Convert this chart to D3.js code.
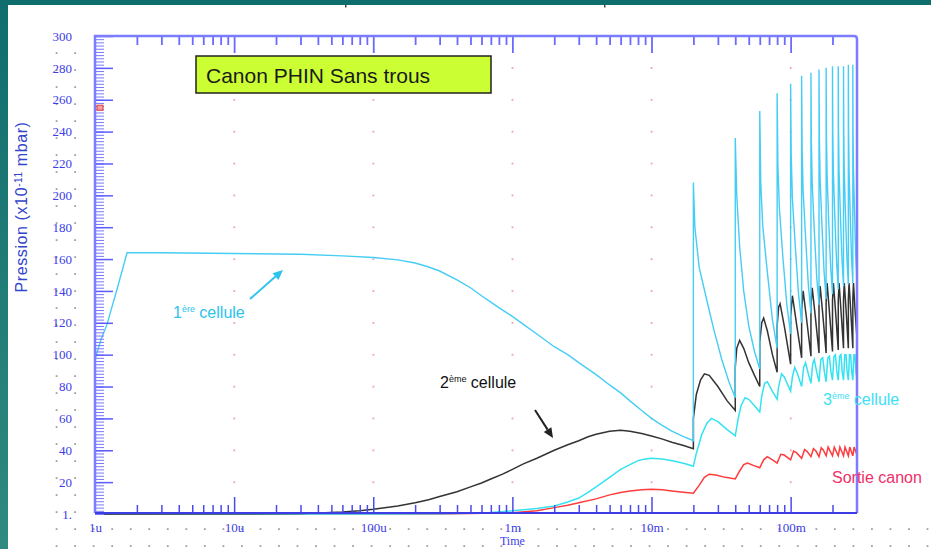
<!DOCTYPE html>
<html>
<head>
<meta charset="utf-8">
<script src="https://cdn.jsdelivr.net/npm/d3@7"></script>
<style>
  body { margin: 0; background: #fff; overflow: hidden; }
</style>
</head>
<body>
<div class="area"></div>
<script>
const width = 931
const height = 549
const plotLeft = 95
const plotRight = 857
const plotTop = 36
const plotBottom = 514
const axisColor = "#6a6aff"
const labelColor = "#3c3ce6"

// ---- data (time in seconds, pression in 1e-11 mbar) ----
const decadeTicks = [1e-6, 1e-5, 1e-4, 1e-3, 1e-2, 1e-1]
const decadeLabels = ["1u", "10u", "100u", "1m", "10m", "100m"]
const yTickValues = [0, 20, 40, 60, 80, 100, 120, 140, 160, 180, 200, 220, 240, 260, 280, 300]
const yTickLabels = ["1.", "20", "40", "60", "80", "100", "120", "140", "160", "180", "200", "220", "240", "260", "280", "300"]

const cellule1 = [
  [1e-6, 97], [1.1e-6, 109], [1.22e-6, 119], [1.45e-6, 142], [1.7e-6, 164], [3e-6, 164], [1e-5, 163.5],
  [3e-5, 163], [6e-5, 162], [1e-4, 161], [1.5e-4, 159.5], [2e-4, 157.5], [2.5e-4, 155], [3e-4, 152.5],
  [4e-4, 147], [5e-4, 142], [6e-4, 137], [7e-4, 133], [8e-4, 129.5], [1e-3, 124], [1.2e-3, 119],
  [1.5e-3, 113], [2e-3, 105], [2.5e-3, 100], [3e-3, 95], [4e-3, 87.5], [5e-3, 81], [6e-3, 76],
  [7e-3, 71], [8.5e-3, 65], [1e-2, 60], [1.2e-2, 55.5], [1.4e-2, 52], [1.7e-2, 48.5], [2e-2, 46],
  [0.02, 208], [0.0205, 180], [0.022, 155], [0.025, 134], [0.028, 116], [0.032, 97], [0.036, 83], [0.04, 73],
  [0.04, 236], [0.041, 200], [0.043, 168], [0.046, 140], [0.05, 118], [0.055, 102], [0.06, 91],
  [0.06, 253], [0.061, 208], [0.063, 181], [0.068, 152], [0.074, 122], [0.08, 104],
  [0.08, 264], [0.081, 219], [0.083, 192], [0.088, 161], [0.094, 131], [0.1, 113],
  [0.1, 270], [0.101, 225], [0.103, 198], [0.108, 168], [0.114, 138], [0.12, 120],
  [0.12, 275], [0.121, 229], [0.123, 203], [0.128, 174], [0.134, 144], [0.14, 126],
  [0.14, 277], [0.141, 233], [0.143, 207], [0.148, 178], [0.154, 149], [0.16, 131],
  [0.16, 279], [0.161, 236], [0.163, 210], [0.168, 181], [0.174, 152], [0.18, 135],
  [0.18, 280], [0.181, 237], [0.183, 212], [0.188, 183], [0.194, 155], [0.2, 138],
  [0.2, 281], [0.201, 239], [0.203, 214], [0.208, 186], [0.214, 158], [0.22, 141],
  [0.22, 281], [0.221, 240], [0.223, 215], [0.228, 187], [0.234, 160], [0.24, 143],
  [0.24, 281], [0.241, 240], [0.243, 215], [0.248, 188], [0.254, 160], [0.26, 144],
  [0.26, 282], [0.261, 241], [0.263, 216], [0.268, 189], [0.274, 161], [0.28, 145],
  [0.28, 282], [0.281, 241], [0.283, 216], [0.288, 189], [0.294, 162], [0.3, 146]
]

const cellule2 = [
  [1e-6, 0], [3e-5, 0.3], [4.5e-5, 0.8], [6e-5, 1.3], [8e-5, 2.1], [1e-4, 3], [1.5e-4, 5], [2e-4, 7],
  [2.5e-4, 9], [3e-4, 11], [4e-4, 14], [5e-4, 17], [6e-4, 19.5], [7e-4, 22], [8.5e-4, 25],
  [1e-3, 28], [1.2e-3, 31.5], [1.5e-3, 35], [2e-3, 40], [2.5e-3, 43.5], [3e-3, 46], [3.5e-3, 48.5],
  [4e-3, 50], [5e-3, 52], [6e-3, 52.5], [7e-3, 52], [8.5e-3, 50.5], [1e-2, 49], [1.2e-2, 47],
  [1.4e-2, 45], [1.7e-2, 43], [2e-2, 41],
  [0.02, 60], [0.021, 75], [0.0225, 84], [0.024, 88], [0.026, 87], [0.03, 80], [0.035, 71], [0.04, 65],
  [0.04, 92], [0.041, 104], [0.043, 109], [0.046, 104], [0.05, 95], [0.055, 87], [0.06, 80],
  [0.06, 108], [0.062, 120], [0.064, 123], [0.068, 115], [0.074, 100], [0.08, 89],
  [0.08, 118], [0.082, 130], [0.084, 132], [0.09, 118], [0.1, 94],
  [0.1, 124], [0.103, 137], [0.11, 120], [0.12, 98],
  [0.12, 128], [0.123, 140], [0.13, 123], [0.14, 99],
  [0.14, 130], [0.143, 142], [0.15, 125], [0.16, 101],
  [0.16, 132], [0.163, 143], [0.17, 126], [0.18, 101],
  [0.18, 133], [0.183, 145], [0.19, 127], [0.2, 102],
  [0.2, 134], [0.203, 145], [0.21, 128], [0.22, 103],
  [0.22, 134], [0.223, 145], [0.23, 128], [0.24, 104],
  [0.24, 135], [0.243, 145], [0.25, 129], [0.26, 104],
  [0.26, 135], [0.263, 145], [0.27, 129], [0.28, 104],
  [0.28, 135], [0.283, 145], [0.29, 129], [0.3, 110]
]

const cellule3 = [
  [1e-6, 0], [1e-4, 0], [3e-4, 0.2], [5e-4, 0.5], [7e-4, 1], [1e-3, 2], [1.5e-3, 3.5], [2e-3, 5],
  [2.5e-3, 7.5], [3e-3, 10], [3.5e-3, 13.5], [4e-3, 17], [5e-3, 23], [6e-3, 28], [7e-3, 31],
  [8e-3, 33.5], [9e-3, 34.5], [1e-2, 35], [1.2e-2, 34.5], [1.5e-2, 33], [1.75e-2, 31.5], [2e-2, 30],
  [0.021, 38], [0.023, 50], [0.025, 57], [0.027, 60], [0.03, 58], [0.035, 53], [0.04, 49],
  [0.042, 60], [0.044, 68], [0.047, 73], [0.05, 72], [0.055, 68], [0.06, 64],
  [0.062, 74], [0.065, 82], [0.068, 83], [0.074, 77], [0.08, 72],
  [0.082, 80], [0.086, 88], [0.09, 86], [0.1, 77],
  [0.103, 86], [0.107, 92], [0.112, 88], [0.12, 80],
  [0.124, 92], [0.128, 95], [0.134, 88], [0.14, 82],
  [0.144, 94], [0.148, 97], [0.154, 89], [0.16, 83],
  [0.165, 97], [0.17, 98], [0.175, 89], [0.18, 83],
  [0.185, 98], [0.19, 99], [0.195, 89], [0.2, 84],
  [0.205, 99], [0.21, 100], [0.215, 89], [0.22, 84],
  [0.225, 99], [0.23, 100], [0.235, 89], [0.24, 84],
  [0.245, 100], [0.25, 100], [0.255, 89], [0.26, 84],
  [0.265, 100], [0.27, 100], [0.275, 89], [0.28, 84],
  [0.285, 100], [0.29, 100], [0.295, 89], [0.3, 85]
]

const sortieCanon = [
  [1e-6, 0], [3e-4, 0], [1e-3, 0.8], [1.5e-3, 2], [2e-3, 4], [2.5e-3, 5.5], [3e-3, 7], [4e-3, 9.5],
  [5e-3, 12], [6e-3, 13.5], [7e-3, 14.5], [8.5e-3, 15.2], [1e-2, 15.5], [1.2e-2, 15.2], [1.4e-2, 14.5],
  [1.7e-2, 13.7], [2e-2, 13],
  [0.022, 18], [0.024, 23], [0.026, 25], [0.029, 24.5], [0.034, 23], [0.04, 22],
  [0.043, 27], [0.046, 31], [0.049, 32], [0.054, 30.5], [0.06, 29],
  [0.064, 34], [0.068, 36], [0.074, 34], [0.08, 32],
  [0.085, 37.5], [0.09, 37], [0.1, 34],
  [0.105, 39.5], [0.11, 38.5], [0.12, 35],
  [0.126, 40.5], [0.132, 39], [0.14, 36],
  [0.146, 41], [0.152, 39.5], [0.16, 36],
  [0.166, 41.5], [0.172, 40], [0.18, 36.5],
  [0.186, 42], [0.2, 36.5],
  [0.206, 42], [0.22, 36.5],
  [0.226, 42], [0.24, 36.5],
  [0.246, 42], [0.26, 36.5],
  [0.266, 42], [0.28, 36.5],
  [0.286, 42], [0.3, 37]
]

// ---- svg ----
const svg = d3.select(".area")
  .append("svg")
  .attr("width", width)
  .attr("height", height)
  .attr("viewBox", [0, 0, width, height])
  .style("display", "block")

const defs = svg.append("defs")
const grad = defs.append("linearGradient")
  .attr("id", "teal")
  .attr("x1", 0).attr("y1", 0).attr("x2", 0).attr("y2", 1)
grad.append("stop").attr("offset", "0%").attr("stop-color", "#0f6d6d")
grad.append("stop").attr("offset", "100%").attr("stop-color", "#2f8a7f")

svg.append("rect").attr("width", width).attr("height", height).attr("fill", "#fff")
svg.append("rect").attr("x", 0).attr("y", 0).attr("width", 8).attr("height", height).attr("fill", "url(#teal)")
svg.append("rect").attr("x", 0).attr("y", 0).attr("width", width).attr("height", 5).attr("fill", "#0f6d6d")
svg.append("rect").attr("x", 345).attr("y", 5).attr("width", 1.5).attr("height", 2.5).attr("fill", "#444")
svg.append("rect").attr("x", 604).attr("y", 5).attr("width", 1.5).attr("height", 2.5).attr("fill", "#444")

const x = d3.scaleLog()
  .domain([1e-6, 0.3])
  .range([plotLeft, plotRight])

const y = d3.scaleLinear()
  .domain([0, 300])
  .range([plotBottom, plotTop])

const dotLayer = svg.append("g")
const gridLayer = svg.append("g")
const lineLayer = svg.append("g")
const axisLayer = svg.append("g")
const textLayer = svg.append("g")

// margin dots
for (let j = 0; j <= 29; j++) {
  const cy = 546 - 17 * j
  for (let i = 0; i <= 47; i++) {
    const cx = 56.5 + 18.53 * i
    const inLeft = cx < plotLeft - 10
    const inBottom = cy > plotBottom + 5
    if (!(inLeft || inBottom)) continue
    if (inLeft && cy < 48) continue
    dotLayer.append("rect")
      .attr("x", cx - 0.8).attr("y", cy - 0.8)
      .attr("width", 1.8).attr("height", 1.8)
      .attr("fill", "#a0a0a0")
  }
}

// pink grid dots inside the plot
decadeTicks.slice(1).forEach(t => {
  yTickValues.slice(1, -1).forEach(v => {
    gridLayer.append("rect")
      .attr("x", x(t) - 0.8).attr("y", y(v) - 0.8)
      .attr("width", 1.8).attr("height", 1.8)
      .attr("fill", "#f3a3a3")
  })
})

// ---- series ----
const line = d3.line()
  .x(d => x(d[0]))
  .y(d => y(d[1]))

lineLayer.append("path").datum(sortieCanon)
  .attr("fill", "none").attr("stroke", "#ff3b3b").attr("stroke-width", 1.5).attr("d", line)
lineLayer.append("path").datum(cellule3)
  .attr("fill", "none").attr("stroke", "#35e2f2").attr("stroke-width", 1.5).attr("d", line)
lineLayer.append("path").datum(cellule2)
  .attr("fill", "none").attr("stroke", "#333").attr("stroke-width", 1.5).attr("d", line)
lineLayer.append("path").datum(cellule1)
  .attr("fill", "none").attr("stroke", "#45cdf5").attr("stroke-width", 1.4).attr("d", line)

// ---- axes ----
const minorX = []
decadeTicks.forEach(d => { for (let k = 2; k <= 9; k++) if (d * k < 0.3) minorX.push(d * k) })

function styleAxis(g, color, w) {
  g.select(".domain").remove()
  g.selectAll(".tick line").attr("stroke", color).attr("stroke-width", w)
}

axisLayer.append("g").attr("transform", `translate(0, ${plotTop})`)
  .call(d3.axisBottom(x).tickValues(minorX).tickSize(9).tickFormat(""))
  .call(g => styleAxis(g, axisColor, 1.8))
axisLayer.append("g").attr("transform", `translate(0, ${plotTop})`)
  .call(d3.axisBottom(x).tickValues(decadeTicks.slice(1)).tickSize(17).tickFormat(""))
  .call(g => styleAxis(g, axisColor, 1.8))
axisLayer.append("g").attr("transform", `translate(0, ${plotBottom - 1})`)
  .call(d3.axisTop(x).tickValues(minorX).tickSize(8).tickFormat(""))
  .call(g => styleAxis(g, "#4a4af0", 1.5))
axisLayer.append("g").attr("transform", `translate(0, ${plotBottom - 1})`)
  .call(d3.axisTop(x).tickValues(decadeTicks.slice(1)).tickSize(16).tickFormat(""))
  .call(g => styleAxis(g, "#4a4af0", 1.5))

const minorY = d3.range(0, 301, 2)
axisLayer.append("g").attr("transform", `translate(${plotLeft}, 0)`)
  .call(d3.axisRight(y).tickValues(minorY).tickSize(9).tickFormat(""))
  .call(g => styleAxis(g, "#7878ff", 1))
axisLayer.append("g").attr("transform", `translate(${plotLeft}, 0)`)
  .call(d3.axisRight(y).tickValues(yTickValues.slice(1)).tickSize(18).tickFormat(""))
  .call(g => styleAxis(g, "#5c5cff", 1.5))

// frame
axisLayer.append("path")
  .attr("d", `M${plotLeft},${plotBottom - 1} V${plotTop} H${plotRight - 3} Q${plotRight},${plotTop} ${plotRight},${plotTop + 3} V${plotBottom - 1}`)
  .attr("fill", "none").attr("stroke", "#7c7cff").attr("stroke-width", 2.5)
axisLayer.append("line")
  .attr("x1", plotLeft).attr("x2", plotRight)
  .attr("y1", plotBottom - 1).attr("y2", plotBottom - 1)
  .attr("stroke", "#3d3de8").attr("stroke-width", 2)

// cursor marker on the left axis
axisLayer.append("rect")
  .attr("x", plotLeft + 2).attr("y", y(255) - 2.5)
  .attr("width", 6).attr("height", 5)
  .attr("fill", "#f4a0a0").attr("stroke", "#e03c3c").attr("stroke-width", 1)

// tick labels
const xLabels = axisLayer.append("g").attr("transform", `translate(0, ${plotBottom})`)
  .call(d3.axisBottom(x).tickValues(decadeTicks).tickSize(0).tickPadding(9)
    .tickFormat((d, i) => decadeLabels[i]))
xLabels.select(".domain").remove()
xLabels.selectAll("text")
  .attr("fill", labelColor)
  .style("font-family", "'Liberation Serif', 'DejaVu Serif', serif")
  .style("font-size", "13px")

const yLabels = axisLayer.append("g").attr("transform", `translate(${plotLeft}, 0)`)
  .call(d3.axisLeft(y).tickValues(yTickValues).tickSize(0).tickPadding(23)
    .tickFormat((d, i) => yTickLabels[i]))
yLabels.select(".domain").remove()
yLabels.selectAll("text")
  .attr("fill", labelColor)
  .style("font-family", "'Liberation Serif', 'DejaVu Serif', serif")
  .style("font-size", "13px")

textLayer.append("text")
  .attr("x", x(1e-3)).attr("y", 545)
  .attr("text-anchor", "middle")
  .attr("fill", labelColor)
  .style("font-family", "'Liberation Serif', serif")
  .style("font-size", "12px")
  .text("Time")

// y axis title
const yTitle = textLayer.append("text")
  .attr("transform", "translate(27, 207) rotate(-90)")
  .attr("text-anchor", "middle")
  .attr("fill", "#3344cc")
  .style("font-family", "'Liberation Sans', Arial, sans-serif")
  .style("font-size", "16px")
  .style("letter-spacing", "0.6px")
yTitle.append("tspan").text("Pression (x10")
yTitle.append("tspan").attr("dy", -5).style("font-size", "10px").text("-11")
yTitle.append("tspan").attr("dy", 5).text(" mbar)")

// title box
textLayer.append("rect")
  .attr("x", 196).attr("y", 56).attr("width", 295).attr("height", 37)
  .attr("fill", "#ccff33").attr("stroke", "#222").attr("stroke-width", 1.5)
textLayer.append("text")
  .attr("x", 206).attr("y", 83)
  .attr("fill", "#1a1a1a")
  .style("font-family", "'Liberation Sans', Arial, sans-serif")
  .style("font-size", "21px")
  .text("Canon PHIN Sans trous")

// annotations
function annotate(px, py, num, sup, rest, color) {
  const t = textLayer.append("text")
    .attr("x", px).attr("y", py)
    .attr("fill", color)
    .style("font-family", "'Liberation Sans', Arial, sans-serif")
    .style("font-size", "16px")
  t.append("tspan").text(num)
  t.append("tspan").attr("dy", -6).style("font-size", "9px").text(sup)
  t.append("tspan").attr("dy", 6).text(rest)
}
annotate(173, 318, "1", "ère", " cellule", "#2cc3ec")
annotate(440, 388, "2", "ème", " cellule", "#111")
annotate(823, 405, "3", "ème", " cellule", "#3ee0f5")
textLayer.append("text")
  .attr("x", 832).attr("y", 483)
  .attr("fill", "#f0306a")
  .style("font-family", "'Liberation Sans', Arial, sans-serif")
  .style("font-size", "16px")
  .text("Sortie canon")

function arrow(x1, y1, x2, y2, color) {
  const a = Math.atan2(y2 - y1, x2 - x1)
  const L = 10, W = 4.5
  const bx = x2 - L * Math.cos(a), by = y2 - L * Math.sin(a)
  textLayer.append("line")
    .attr("x1", x1).attr("y1", y1).attr("x2", bx).attr("y2", by)
    .attr("stroke", color).attr("stroke-width", 2)
  textLayer.append("path")
    .attr("d", `M${x2},${y2} L${bx + W * Math.sin(a)},${by - W * Math.cos(a)} L${bx - W * Math.sin(a)},${by + W * Math.cos(a)} Z`)
    .attr("fill", color)
}
arrow(250, 299, 283, 270, "#2cc3ec")
arrow(535, 410, 553, 438, "#222")
</script>
</body>
</html>
